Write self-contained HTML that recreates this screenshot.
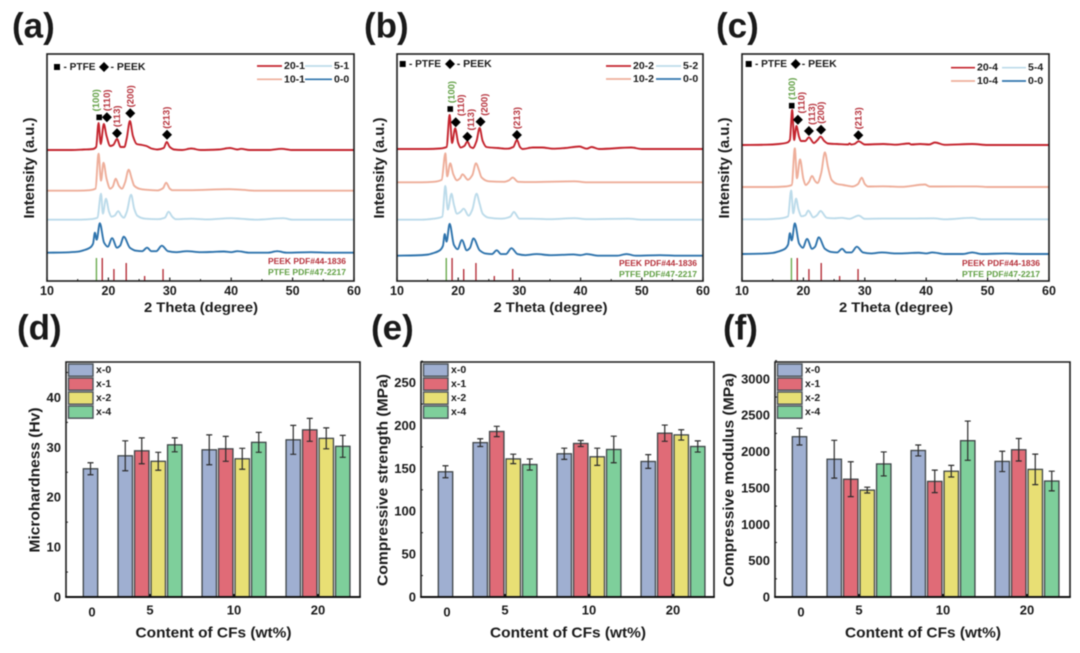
<!DOCTYPE html>
<html lang="en">
<head>
<meta charset="utf-8">
<title>XRD patterns and mechanical properties of PEEK/PTFE composites</title>
<style>
html,body{margin:0;padding:0;background:#fff;width:1080px;height:653px;overflow:hidden}
svg{display:block;filter:blur(0.5px)}
text{font-family:"Liberation Sans",Arial,sans-serif;font-weight:bold}
</style>
</head>
<body>
<svg id="figure" xmlns="http://www.w3.org/2000/svg" width="1080" height="653" viewBox="0 0 1080 653"></svg>
<script>
// ---------- XRD data: [2-theta, intensity above the trace's own baseline] ----------
const trace20_1 = [[10,0],[14,0],[16,.5],[17.5,1],[18,3],[18.4,27],[18.75,6],[19.25,26],[19.7,14],[20.3,4],[20.8,5],[21.4,11],[22,3],[22.6,3],[23,12],[23.5,29],[24,14],[24.6,6],[25.5,5],[26.2,4],[27,1.5],[28,.5],[29,2],[29.5,8],[30,3],[30.7,.5],[32,0],[33.5,1.5],[35,0],[38,.5],[39.8,2],[41,.5],[41.6,1.2],[43,0],[46,0],[48.2,1.2],[50,0],[60,0]];
const trace10_1 = [[10,0],[15,0],[17,.5],[17.9,2],[18.4,37],[18.8,10],[19.2,28],[19.7,12],[20.3,2],[20.7,4],[21.2,12],[21.7,5],[22.2,2],[22.7,8],[23.3,21],[23.8,12],[24.2,5],[25,2],[26,1],[28,.3],[28.9,2.5],[29.4,8],[30,2],[30.4,.5],[33,.5],[39.7,1.5],[41.6,1],[44,0],[60,0]];
const trace5_1 = [[10,0],[15,0],[17,.5],[18.2,2],[18.8,26],[19.1,6],[19.6,21],[20.1,8],[20.5,3],[21,4],[21.6,8.5],[22.1,4],[22.5,2],[23,8],[23.7,25],[24.2,11],[24.7,4],[26,1],[28,.5],[29.2,2],[29.8,8],[30.4,3],[31,.5],[33.5,1],[36,.3],[40,1.5],[41.5,1],[44,0],[48.5,1.5],[50,0],[60,0]];
const trace0_0 = [[10,0],[13,.3],[15,1],[16,2.5],[17,5],[17.5,9],[17.8,20],[18.1,13],[18.6,29.5],[19.3,10],[19.9,6],[20.6,14.5],[21.4,5],[21.9,7],[22.5,16],[23.5,5],[24.5,2],[25.5,1.5],[26.3,5],[27,1.5],[27.8,1.5],[28.7,7],[29.7,1.5],[31,.5],[32.8,1.5],[35,.5],[37,.8],[38.8,1.2],[40,.5],[41,1.5],[43,0],[46,0],[47.5,1.5],[49,0],[53,.5],[56,0],[60,0]];
const trace20_2 = [[10,0],[15,0],[17,.5],[18.1,2],[18.6,34],[19,6],[19.5,20.7],[20,6],[20.4,1.5],[21,3],[21.5,7.5],[22,2],[22.4,1],[23,8],[23.5,21],[24,8],[24.6,2],[26.5,1],[28,.3],[29,2],[29.6,9],[30.1,2],[30.5,0],[32.2,1.5],[33.7,1.5],[35.5,.3],[37.5,1],[39.8,2.5],[41,.3],[41.8,2],[43,0],[48.3,1.5],[50,0],[60,0]];
const trace10_2 = [[10,0],[14,0],[16,.5],[17.3,2.5],[17.9,29],[18.2,6],[18.7,19],[19.2,8],[19.8,2],[20.3,4],[20.7,8],[21.6,2.5],[22.3,7],[22.9,19],[23.4,12],[23.8,5],[25,1],[27.5,.5],[28.3,2],[28.9,4.7],[29.8,.5],[32,.2],[39,1],[41,0],[60,0]];
const trace5_2 = [[10,0],[14,0],[16,1],[17.4,3],[17.9,33.7],[18.3,10],[18.9,26],[19.3,15],[19.8,6],[20.4,8],[20.9,11],[21.7,4],[22.3,10],[23,26],[23.5,16],[24,6],[25,2],[27,1],[28.5,3],[29.1,7.7],[30,1],[32,1],[35,.5],[39,1.5],[41,.5],[47.8,1],[50,0],[60,0]];
const trace20_4 = [[10,0],[14,.3],[16,1],[17.4,2.5],[17.8,5],[18.17,35],[18.5,5],[18.85,19],[19.3,8],[19.6,4],[20.3,4],[20.9,7.7],[21.7,2],[22.3,5],[22.8,8.3],[23.4,4],[24,1.5],[25.5,1],[27.3,.5],[27.5,1.5],[27.8,.5],[28.3,1],[29,3.7],[30,.5],[33,1],[35,.3],[37.2,1.5],[37.6,.5],[39,1],[40.5,.5],[41.4,2.5],[43,.2],[47.5,1],[50,0],[60,0]];
const trace10_4 = [[10,0],[15,0],[17,.5],[18.1,2],[18.6,38.7],[18.95,8.7],[19.45,27.7],[20,8],[20.4,2],[20.9,5],[21.4,11],[21.9,6],[22.3,4],[22.9,14],[23.5,34.7],[24,20],[24.6,7],[25.5,3],[26.5,2],[28,.5],[28.9,3],[29.5,9.3],[30,3],[30.5,.5],[33,.7],[36,.2],[39.8,2.5],[40.6,.5],[42,.5],[48.3,.6],[50,0],[60,0]];
const trace5_4 = [[10,0],[14,0],[16,.7],[17.5,3],[18,28.7],[18.35,6],[18.8,20.7],[19.2,10],[19.7,3],[20.3,4],[20.8,8.7],[21.6,2],[22.2,4],[22.8,8.3],[23.8,1.5],[25,1],[26.2,1.5],[27.5,.5],[29,3.7],[30,.5],[33,.7],[37,.7],[41.2,1],[43,0],[47.5,1.5],[49,0],[60,0]];

// trace baselines (stack offsets) and peak scale of the shared 0-0 trace
const offsetsA = [131, 90.3, 61.3, 28.3];
const offsetsB = [132, 98.7, 61.3, 25.3];
const offsetsC = [136, 94, 61.7, 27];
const scale00 = [1, 1.08, 1.04];

// reference stick patterns
const peekRefTheta = [19, 20.9, 22.9, 25.9, 28.9];
const peekRefIntensity = [23, 12, 18, 5, 12];
const ptfeRefTheta = [18.05];
const ptfeRefIntensity = [23];

// peak annotations
const peakLabels = ['(100)', '(110)', '(113)', '(200)', '(213)'];
const peakThetaA = [18.5, 19.75, 21.4, 23.56, 29.55];
const peakHeightA = [163.7, 163.7, 147.7, 167.7, 146.3];
const peakThetaB = [18.7, 19.6, 21.5, 23.65, 29.6];
const peakHeightB = [172, 158.7, 144.3, 159.3, 146];
const peakThetaC = [18.1, 19.1, 20.9, 22.87, 28.95];
const peakHeightC = [175.3, 161.3, 150, 151.3, 145.7];

const xrdTicks = [10, 20, 30, 40, 50, 60];

// ---------- Bar data ----------
const categories = ['0', '5', '10', '20'];
const seriesNames = ['x-0', 'x-1', 'x-2', 'x-4'];
const barColors = ['#9fafd1', '#e06b77', '#e8df74', '#7ecf9b'];

const hardnessX0 = [25.7, 28.3, 29.5, 31.5];
const hardnessX1 = [null, 29.3, 29.7, 33.5];
const hardnessX2 = [null, 27.2, 27.7, 31.8];
const hardnessX4 = [null, 30.5, 31, 30.2];
const hardnessErrX0 = [1.2, 3, 3, 2.9];
const hardnessErrX1 = [null, 2.6, 2.5, 2.3];
const hardnessErrX2 = [null, 1.8, 2.1, 2.1];
const hardnessErrX4 = [null, 1.4, 2, 2.2];
const hardnessTicks = [0, 10, 20, 30, 40];

const strengthX0 = [146, 180, 167, 158];
const strengthX1 = [null, 193, 179, 191];
const strengthX2 = [null, 161, 163.5, 189];
const strengthX4 = [null, 154.5, 172, 175.5];
const strengthErrX0 = [7, 4.5, 6.5, 8];
const strengthErrX1 = [null, 6, 3.5, 9.5];
const strengthErrX2 = [null, 5.5, 10, 6];
const strengthErrX4 = [null, 6.5, 15.5, 6.5];
const strengthTicks = [0, 50, 100, 150, 200, 250];

const modulusX0 = [2205, 1895, 2015, 1865];
const modulusX1 = [null, 1620, 1590, 2025];
const modulusX2 = [null, 1470, 1730, 1755];
const modulusX4 = [null, 1830, 2150, 1595];
const modulusErrX0 = [115, 260, 75, 140];
const modulusErrX1 = [null, 240, 155, 155];
const modulusErrX2 = [null, 40, 80, 210];
const modulusErrX4 = [null, 165, 270, 135];
const modulusTicks = [0, 500, 1000, 1500, 2000, 2500, 3000];

// ---------- Helpers ----------
const svg = document.getElementById('figure');
const NS = 'http://www.w3.org/2000/svg';
function mk(tag, attrs, parent) {
  const el = document.createElementNS(NS, tag);
  for (const k in attrs) el.setAttribute(k, attrs[k]);
  parent.appendChild(el);
  return el;
}
function txt(parent, str, x, y, size, opts) {
  const o = opts || {};
  const a = {x: x, y: y, 'font-size': size, fill: o.fill || '#1a1a1a', 'text-anchor': o.anchor || 'middle', 'dominant-baseline': 'central'};
  if (o.len) { a.textLength = o.len; a.lengthAdjust = 'spacingAndGlyphs'; }
  if (o.rot) a.transform = 'rotate(' + o.rot + ' ' + x + ' ' + y + ')';
  const el = mk('text', a, parent);
  el.textContent = str;
  return el;
}
// monotone cubic path through points
function smoothPath(p) {
  const n = p.length, d = [], m = [];
  for (let i = 0; i < n - 1; i++) d[i] = (p[i+1][1] - p[i][1]) / (p[i+1][0] - p[i][0]);
  m[0] = d[0]; m[n-1] = d[n-2];
  for (let i = 1; i < n - 1; i++) {
    if (d[i-1] * d[i] <= 0) { m[i] = 0; continue; }
    const h0 = p[i][0] - p[i-1][0], h1 = p[i+1][0] - p[i][0];
    m[i] = 3 * (h0 + h1) / ((2 * h1 + h0) / d[i-1] + (h1 + 2 * h0) / d[i]);
  }
  let s = 'M' + p[0][0].toFixed(2) + ' ' + p[0][1].toFixed(2);
  for (let i = 0; i < n - 1; i++) {
    const h = (p[i+1][0] - p[i][0]) / 3;
    s += 'C' + (p[i][0] + h).toFixed(2) + ' ' + (p[i][1] + m[i] * h).toFixed(2) + ' ' +
         (p[i+1][0] - h).toFixed(2) + ' ' + (p[i+1][1] - m[i+1] * h).toFixed(2) + ' ' +
         p[i+1][0].toFixed(2) + ' ' + p[i+1][1].toFixed(2);
  }
  return s;
}

// ---------- XRD panels ----------
const lineColors = ['#c4242e', '#eeae9a', '#bcdbea', '#2f74ad'];
const xrdTop = 54, xrdBottom = 281;
const xrdPanels = [
  {id: 'a', tag: '(a)', tagX: 12, left: 47, right: 354, series: ['20-1', '10-1', '5-1', '0-0'],
   traces: [trace20_1, trace10_1, trace5_1, trace0_0], offsets: offsetsA, s00: scale00[0],
   pTheta: peakThetaA, pHeight: peakHeightA, labelShift: [-2.5, 0.6, 0.6, 0.7, 0],
   keyX: [57, 63.5, 104, 110.5], keyY: 67, legX: [257, 284, 305, 334], legY: [66, 79.3], refX: 268, refY: [261, 272]},
  {id: 'b', tag: '(b)', tagX: 364, left: 397, right: 703, series: ['20-2', '10-2', '5-2', '0-0'],
   traces: [trace20_2, trace10_2, trace5_2, trace0_0], offsets: offsetsB, s00: scale00[1],
   pTheta: peakThetaB, pHeight: peakHeightB, labelShift: [1.7, 6, 4, 4.3, 0.5],
   keyX: [402.7, 409, 450, 456.7], keyY: 64, legX: [606, 633, 656, 683], legY: [66, 79], refX: 619, refY: [263, 274]},
  {id: 'c', tag: '(c)', tagX: 716, left: 742, right: 1049, series: ['20-4', '10-4', '5-4', '0-0'],
   traces: [trace20_4, trace10_4, trace5_4, trace0_0], offsets: offsetsC, s00: scale00[2],
   pTheta: peakThetaC, pHeight: peakHeightC, labelShift: [0.7, 4, 3.6, 0.7, 0.7],
   keyX: [748.7, 755, 795.7, 801.7], keyY: 64, legX: [951, 977, 1002, 1028], legY: [67.7, 81], refX: 962, refY: [263, 274]}
];

xrdPanels.forEach(function (P) {
  const g = mk('g', {}, svg);
  
  
  const xs = function (t) { return P.left + (t - 10) / 50 * (P.right - P.left); };
  const ys = function (v) { return xrdBottom - v; };

  const tag = txt(g, P.tag, P.tagX, 26, 35, {anchor: 'start'});
  
  

  // traces
  P.traces.forEach(function (tr, i) {
    const scale = i === 3 ? P.s00 : 1;
    const pts = tr.map(function (d) { return [xs(d[0]), ys(P.offsets[i] + d[1] * scale)]; });
    const path = mk('path', {d: smoothPath(pts), fill: 'none', stroke: lineColors[i], 'stroke-width': 1.9, 'stroke-linejoin': 'round'}, g);
    
    
  });

  // reference sticks
  peekRefTheta.forEach(function (t, i) {
    const l = mk('line', {x1: xs(t), x2: xs(t), y1: xrdBottom, y2: ys(peekRefIntensity[i]), stroke: '#b5303a', 'stroke-width': 1.4}, g);
    
    
  });
  ptfeRefTheta.forEach(function (t, i) {
    const l = mk('line', {x1: xs(t), x2: xs(t), y1: xrdBottom, y2: ys(ptfeRefIntensity[i]), stroke: '#6aaa4e', 'stroke-width': 1.4}, g);
    
    
  });
  const r1 = txt(g, 'PEEK PDF#44-1836', P.refX, P.refY[0], 8.6, {anchor: 'start', fill: '#b5303a', len: 78});
  
  
  const r2 = txt(g, 'PTFE  PDF#47-2217', P.refX, P.refY[1], 8.6, {anchor: 'start', fill: '#5f9e42', len: 78});
  
  

  // peak annotations
  peakLabels.forEach(function (lab, i) {
    const mx = xs(P.pTheta[i]), my = ys(P.pHeight[i]);
    const shape = i === 0
      ? mk('rect', {x: mx - 2.8, y: my - 2.8, width: 5.6, height: 5.6, fill: '#000'}, g)
      : mk('polygon', {points: (mx - 5) + ',' + my + ' ' + mx + ',' + (my - 5) + ' ' + (mx + 5) + ',' + my + ' ' + mx + ',' + (my + 5), fill: '#000'}, g);
    
    
    const t = txt(g, lab, mx + P.labelShift[i], my - 17, 9.5, {fill: i === 0 ? '#5f9e42' : '#b5303a', rot: -90});
    
    
  });

  // phase key
  const ks = mk('rect', {x: P.keyX[0] - 3, y: P.keyY - 3, width: 6, height: 6, fill: '#000'}, g);
  
  
  const kt1 = txt(g, '- PTFE', P.keyX[1], P.keyY, 10.5, {anchor: 'start', len: 32});
  
  
  const dx = P.keyX[2], dy = P.keyY;
  const kd = mk('polygon', {points: (dx - 5) + ',' + dy + ' ' + dx + ',' + (dy - 5) + ' ' + (dx + 5) + ',' + dy + ' ' + dx + ',' + (dy + 5), fill: '#000'}, g);
  
  
  const kt2 = txt(g, '- PEEK', P.keyX[3], P.keyY, 10.5, {anchor: 'start', len: 35});
  
  

  // legend
  const order = [[0, 0, 0], [2, 2, 0], [1, 0, 1], [3, 2, 1]];
  order.forEach(function (o) {
    const i = o[0], cx = o[1], row = o[2];
    const yy = P.legY[row];
    const endX = P.legX[cx + 1] - 2;
    const l = mk('line', {x1: P.legX[cx], x2: endX, y1: yy, y2: yy, stroke: lineColors[i], 'stroke-width': 1.7}, g);
    
    
    const t = txt(g, P.series[i], P.legX[cx + 1], yy, 10.5, {anchor: 'start'});
    
    
  });

  // frame
  const fr = mk('rect', {x: P.left, y: xrdTop, width: P.right - P.left, height: xrdBottom - xrdTop, fill: 'none', stroke: '#1c1c1c', 'stroke-width': 1.6}, g);
  
  

  // x ticks
  xrdTicks.forEach(function (t, i) {
    const l = mk('line', {x1: xs(t), x2: xs(t), y1: xrdBottom, y2: xrdBottom - 3.5, stroke: '#1c1c1c', 'stroke-width': 1.2}, g);
    
    
    const lb = txt(g, String(t), xs(t), 291, 12.5);
    
    
    if (i < xrdTicks.length - 1) {
      const m = mk('line', {x1: xs(t + 5), x2: xs(t + 5), y1: xrdBottom, y2: xrdBottom - 2, stroke: '#1c1c1c', 'stroke-width': 1}, g);
      
      
    }
  });
  const xt = txt(g, '2 Theta (degree)', (P.left + P.right) / 2 + 0.5, 307, 14, {len: 114});
  
  
  const yt = txt(g, 'Intensity (a.u.)', P.left - 17, 168, 14.5, {rot: -90, len: 101});
  
  
});

// ---------- Bar panels ----------
const barTop = 362, barBottom = 597;
const barPanels = [
  {id: 'd', tag: '(d)', tagX: 17, left: 66, right: 360, ymax: 47.1, ticks: hardnessTicks,
   values: [hardnessX0, hardnessX1, hardnessX2, hardnessX4], errors: [hardnessErrX0, hardnessErrX1, hardnessErrX2, hardnessErrX4],
   ylab: 'Microhardness (Hv)', ylabX: 35, ylabLen: 145},
  {id: 'e', tag: '(e)', tagX: 371, left: 421, right: 714, ymax: 274, ticks: strengthTicks,
   values: [strengthX0, strengthX1, strengthX2, strengthX4], errors: [strengthErrX0, strengthErrX1, strengthErrX2, strengthErrX4],
   ylab: 'Compressive strength (MPa)', ylabX: 383, ylabLen: 212},
  {id: 'f', tag: '(f)', tagX: 723, left: 775, right: 1070, ymax: 3232, ticks: modulusTicks,
   values: [modulusX0, modulusX1, modulusX2, modulusX4], errors: [modulusErrX0, modulusErrX1, modulusErrX2, modulusErrX4],
   ylab: 'Compressive modulus (MPa)', ylabX: 729, ylabLen: 214}
];
const barStep = 16.5, barW = 14.4, groupStep = 84, firstCatInset = 24.5;

barPanels.forEach(function (P) {
  const g = mk('g', {}, svg);
  
  
  const ys = function (v) { return barBottom - v / P.ymax * (barBottom - barTop); };
  const catX = function (i) { return i === 0 ? P.left + firstCatInset : P.left + groupStep * i; };

  const tag = txt(g, P.tag, P.tagX, 328, 35, {anchor: 'start'});
  
  

  // bars + error bars
  P.values.forEach(function (vals, s) {
    vals.forEach(function (v, c) {
      if (v === null) return;
      const cx = c === 0 ? catX(0) : catX(c) + (s - 1.5) * barStep;
      const bar = mk('rect', {x: cx - barW / 2, y: ys(v), width: barW, height: barBottom - ys(v), fill: barColors[s], stroke: '#3f4548', 'stroke-width': 1.3}, g);
      
      
      const e = P.errors[s][c];
      const eb = mk('path', {d: 'M' + cx + ' ' + ys(v + e) + 'V' + ys(v - e) + 'M' + (cx - 3) + ' ' + ys(v + e) + 'H' + (cx + 3) + 'M' + (cx - 3) + ' ' + ys(v - e) + 'H' + (cx + 3), fill: 'none', stroke: '#2b2b2b', 'stroke-width': 1.2}, g);
      
      
    });
  });

  // legend
  seriesNames.forEach(function (name, i) {
    const yy = barTop + 2 + i * 14;
    const sw = mk('rect', {x: P.left + 2.5, y: yy, width: 24.5, height: 12.2, fill: barColors[i], stroke: '#4a5158', 'stroke-width': 1.4}, g);
    
    
    const t = txt(g, name, P.left + 30, yy + 6, 10.5, {anchor: 'start'});
    
    
  });

  // frame and axes
  const fr = mk('path', {d: 'M' + P.left + ' ' + barBottom + 'V' + barTop + 'H' + P.right + 'V' + barBottom, fill: 'none', stroke: '#1c1c1c', 'stroke-width': 1.6}, g);
  
  
  const ax = mk('line', {x1: P.left - 0.8, x2: P.right + 0.8, y1: barBottom, y2: barBottom, stroke: '#111', 'stroke-width': 2.1}, g);
  
  

  // y ticks
  const step = P.ticks[1] - P.ticks[0];
  P.ticks.forEach(function (t) {
    const m = mk('line', {x1: P.left, x2: P.left + 2, y1: ys(t + step / 2), y2: ys(t + step / 2), stroke: '#1c1c1c', 'stroke-width': 1}, g);
    
    
    const lb = txt(g, String(t), P.left - 5, ys(t), 13, {anchor: 'end'});
    
    
  });

  // x labels
  categories.forEach(function (c, i) {
    const lb = txt(g, c, catX(i) + (i === 0 ? 1.5 : 0), i === 0 ? 612 : 610, 13);
    
    
    if (i > 0) {
      const tk = mk('line', {x1: catX(i), x2: catX(i), y1: barBottom, y2: barBottom - 3, stroke: '#111', 'stroke-width': 2}, g);
      
      
    }
  });

  const xt = txt(g, 'Content of CFs (wt%)', (P.left + P.right) / 2 + 0.5, 633, 15, {len: 156});
  
  
  const yt = txt(g, P.ylab, P.ylabX, 480, 15, {rot: -90, len: P.ylabLen});
  
  
});
</script>
</body>
</html>
